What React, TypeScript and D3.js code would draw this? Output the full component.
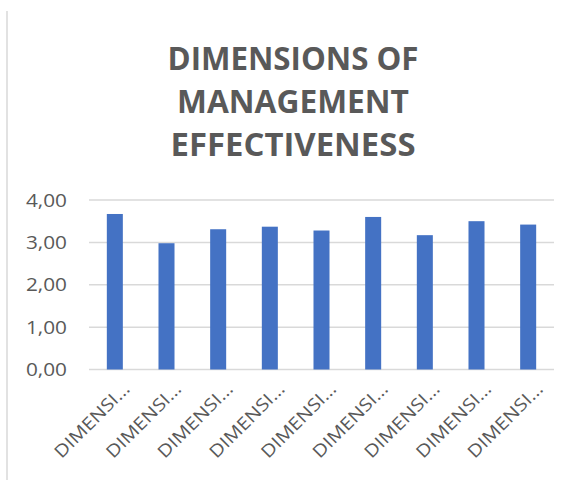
import React from "react";
import * as d3 from "d3";

const categories = [
  "DIMENSI…", "DIMENSI…", "DIMENSI…", "DIMENSI…", "DIMENSI…",
  "DIMENSI…", "DIMENSI…", "DIMENSI…", "DIMENSI…",
];
const values = [3.67, 2.98, 3.31, 3.37, 3.28, 3.6, 3.17, 3.5, 3.42];
const yTicks = [0, 1, 2, 3, 4];
const titleLines = ["DIMENSIONS OF", "MANAGEMENT", "EFFECTIVENESS"];
const titleWidths = [251, 232, 245];

const W = 578;
const H = 480;
const FONT = "'Open Sans', 'Noto Sans', sans-serif";
const TEXT = "#595959";

export default function App() {
  const x = d3
    .scaleBand<number>()
    .domain(d3.range(categories.length))
    .range([89, 554])
    .paddingInner(0.69)
    .paddingOuter(0.345);
  const band = d3.scaleBand<number>().domain(d3.range(categories.length)).range([89, 554]);
  const y = d3.scaleLinear().domain([0, 4]).range([369.5, 200]);
  const fmt = (v: number) => d3.format(".2f")(v).replace(".", ",");

  return (
    <svg
      width={W}
      height={H}
      style={{ position: "absolute", left: 0, top: 0, background: "#fff" }}
    >
      <rect x={0} y={0} width={W} height={H} fill="#fff" />
      <line x1={7} x2={7} y1={11} y2={H} stroke="#e2e2e2" strokeWidth={2} />
      <g fontFamily={FONT} fontWeight="bold" fill={TEXT} textAnchor="middle" fontSize={33}>
        {titleLines.map((t, i) => (
          <text
            key={i}
            x={293}
            y={69.5 + i * 43}
            textLength={titleWidths[i]}
            lengthAdjust="spacingAndGlyphs"
          >
            {t}
          </text>
        ))}
      </g>
      <g>
        {yTicks.map((t) => (
          <line
            key={t}
            x1={89}
            x2={554}
            y1={y(t)}
            y2={y(t)}
            stroke="#d9d9d9"
            strokeWidth={1.5}
          />
        ))}
      </g>
      <g fontFamily={FONT} fontSize={17.5} fill={TEXT} textAnchor="end">
        {yTicks.map((t) => (
          <text
            key={t}
            x={67}
            y={y(t) + 6.5}
            textLength={41}
            lengthAdjust="spacingAndGlyphs"
          >
            {fmt(t)}
          </text>
        ))}
      </g>
      <g>
        {values.map((v, i) => (
          <rect
            key={i}
            x={x(i)}
            y={y(v)}
            width={x.bandwidth()}
            height={y(0) - y(v)}
            fill="#4472c4"
          />
        ))}
      </g>
      <g fontFamily={FONT} fontSize={17.5} fill={TEXT} textAnchor="end">
        {categories.map((c, i) => {
          const cx = (band(i) as number) + band.bandwidth() / 2 + 16;
          const cy = 390;
          return (
            <text
              key={i}
              x={cx}
              y={cy}
              transform={`rotate(-45 ${cx} ${cy})`}
              textLength={98}
              lengthAdjust="spacingAndGlyphs"
            >
              {c}
            </text>
          );
        })}
      </g>
    </svg>
  );
}
